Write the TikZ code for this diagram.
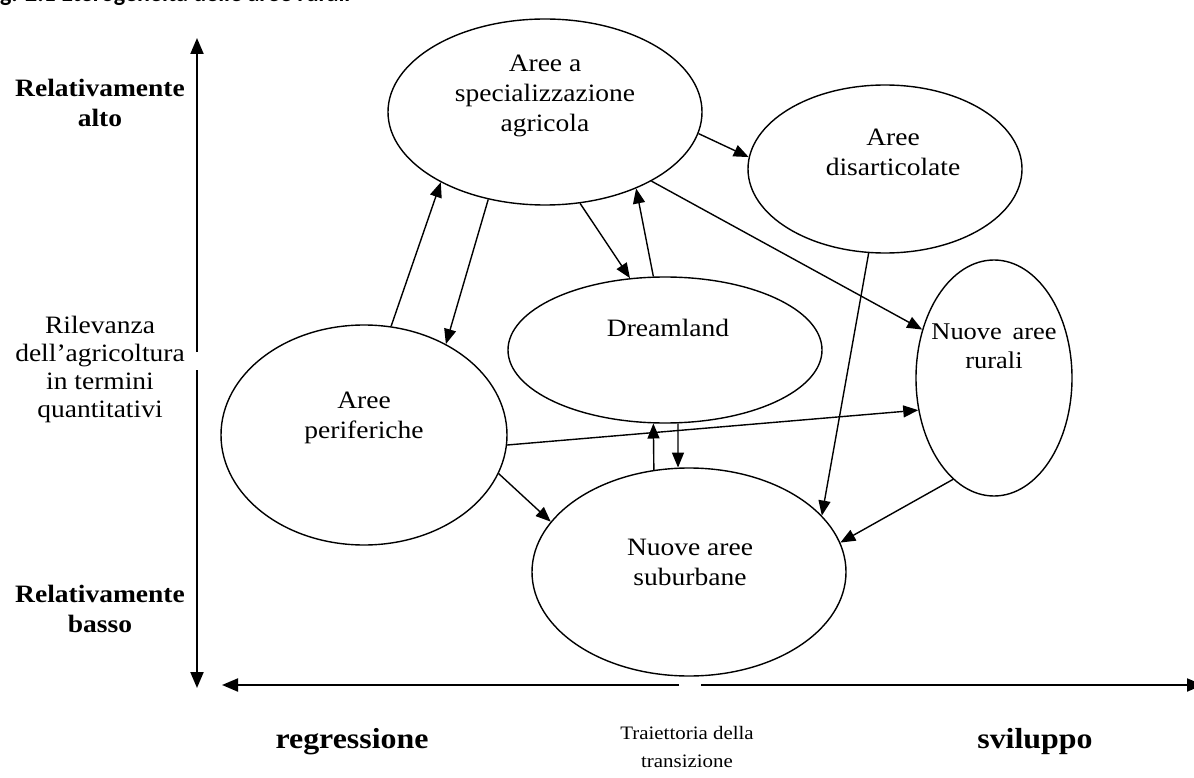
\documentclass[tikz,border=0pt]{standalone}
\usepackage{fontspec}
\setmainfont{Liberation Serif}[FakeStretch=1.1]
\newfontfamily\headfont{Carlito}
\usetikzlibrary{shapes.geometric,arrows.meta}
\begin{document}
\begin{tikzpicture}[x=1pt,y=-1pt,
  area/.style={draw, ellipse, line width=1.4pt, inner sep=0pt},
  lab/.style={align=center, inner sep=0pt, font=\fontsize{25}{30}\selectfont},
  sidelab/.style={align=center, inner sep=0pt, font=\fontsize{25}{28}\selectfont},
  boldlab/.style={align=center, inner sep=0pt, font=\bfseries\fontsize{25}{30}\selectfont},
  poslab/.style={inner sep=0pt, font=\bfseries\fontsize{29}{34}\selectfont},
  conn/.style={line width=1.4pt, -{Triangle[length=15pt,width=12pt]}},
  axisline/.style={line width=2pt, -{Triangle[length=16pt,width=13pt]}},
]
\clip (0,0) rectangle (1194,778);

% caption line, mostly above the page edge
\node[anchor=base west, inner sep=0pt, font=\headfont\bfseries\fontsize{24}{28}\selectfont] (title) at (-17,2) {Fig. 2.1 Eterogeneità delle aree rurali};

% the six kinds of rural area
\node[area, minimum width=314pt, minimum height=186pt] (spec)  at (545,112) {};
\node[area, minimum width=274pt, minimum height=168pt] (dis)   at (885,169) {};
\node[area, minimum width=156pt, minimum height=236pt] (rur)   at (994,378) {};
\node[area, minimum width=314pt, minimum height=146pt] (dream) at (665,350) {};
\node[area, minimum width=286pt, minimum height=220pt] (peri)  at (364,435) {};
\node[area, minimum width=314pt, minimum height=208pt] (sub)   at (689,572) {};

\node[lab] (specT)  at (545,96)  {Aree a\\specializzazione\\agricola};
\node[lab] (disT)   at (893,152) {Aree\\disarticolate};
\node[lab, font=\fontsize{24}{29}\selectfont] (rurT) at (994,346) {Nuove\hspace{0.45em}aree\\rurali};
\node[lab] (dreamT) at (668,328) {Dreamland};
\node[lab] (periT)  at (364,418) {Aree\\periferiche};
\node[lab] (subT)   at (690,562) {Nuove aree\\suburbane};

% transitions between areas
\draw[conn] (peri.76)   -- (spec.-146);
\draw[conn] (spec.-123) -- (peri.48);
\draw[conn] (spec.-69)  -- (dream.116);
\draw[conn] (dream.99)  -- (spec.-40);
\draw[conn] (spec.-8)   -- (dis.175);
\draw[conn] (spec.-33)  -- (rur.146);
\draw[conn] (dis.-101)  -- (sub.23);
\draw[conn] (rur.-112)  -- (sub.11);
\draw[conn] (peri.-4)   -- (rur.203);
\draw[conn] (peri.-16)  -- (sub.160);
\draw[conn] (sub.109.3) -- (dream.-99.5);
\draw[conn] (dream.-80.5) -- (sub.96.6);

% vertical axis
\coordinate (vtop)  at (197,38);
\coordinate (vupA)  at (197,352);
\coordinate (vupB)  at (197,370);
\coordinate (vbot)  at (197,688);
\draw[axisline] (vupA) -- (vtop);
\draw[axisline] (vupB) -- (vbot);

% horizontal axis
\coordinate (hleft)  at (222,685);
\coordinate (hgapA)  at (679,685);
\coordinate (hgapB)  at (701,685);
\coordinate (hright) at (1203,685);
\draw[axisline] (hgapA) -- (hleft);
\draw[axisline] (hgapB) -- (hright);

% axis labels
\node[boldlab] (high) at (100,103) {Relativamente\\alto};
\node[sidelab] (relev) at (100,369) {Rilevanza\\dell’agricoltura\\in termini\\quantitativi};
\node[boldlab] (low)  at (100,609) {Relativamente\\basso};
\node[poslab] (regr) at (352,742) {regressione};
\node[poslab] (svil) at (1035,742) {sviluppo};
\node[align=center, inner sep=0pt, font=\fontsize{19}{28}\selectfont] (traj) at (687,747) {Traiettoria della\\transizione};
\end{tikzpicture}
\end{document}
